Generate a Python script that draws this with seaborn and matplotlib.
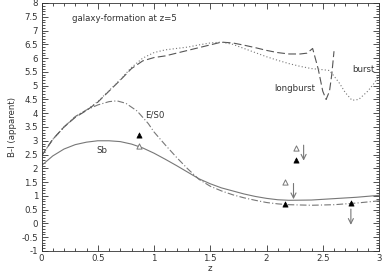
import numpy as np
import pandas as pd
import matplotlib
matplotlib.use("Agg")
import matplotlib.pyplot as plt
from matplotlib.ticker import MultipleLocator
import seaborn as sns

# ---- data ----
sb_z = [0, 0.1, 0.2, 0.3, 0.4, 0.5, 0.6, 0.7, 0.8, 0.9, 1.0, 1.1, 1.2, 1.3, 1.4, 1.5, 1.6, 1.7, 1.8, 1.9, 2.0, 2.1, 2.2, 2.4, 2.6, 2.8, 3.0]
sb_y = [2.1, 2.45, 2.7, 2.86, 2.95, 3.0, 3.0, 2.97, 2.88, 2.74, 2.55, 2.33, 2.1, 1.86, 1.62, 1.44, 1.29, 1.18, 1.07, 0.98, 0.91, 0.86, 0.84, 0.85, 0.9, 0.95, 1.02]

es0_z = [0, 0.1, 0.2, 0.3, 0.4, 0.5, 0.6, 0.67, 0.75, 0.85, 0.95, 1.0, 1.1, 1.2, 1.3, 1.4, 1.5, 1.6, 1.7, 1.8, 1.9, 2.0, 2.1, 2.2, 2.4, 2.6, 2.8, 3.0]
es0_y = [2.45, 3.05, 3.5, 3.88, 4.12, 4.3, 4.42, 4.45, 4.36, 4.08, 3.62, 3.32, 2.85, 2.4, 1.98, 1.6, 1.35, 1.18, 1.04, 0.93, 0.84, 0.76, 0.71, 0.68, 0.66, 0.68, 0.74, 0.82]

long_z = [0, 0.1, 0.2, 0.3, 0.4, 0.5, 0.6, 0.7, 0.8, 0.9, 1.0, 1.1, 1.2, 1.3, 1.4, 1.5, 1.6, 1.7, 1.8, 1.9, 2.0, 2.1, 2.2, 2.3, 2.36, 2.41, 2.46, 2.5, 2.53, 2.56, 2.58, 2.6]
long_y = [2.45, 3.05, 3.5, 3.85, 4.1, 4.4, 4.8, 5.2, 5.62, 5.9, 6.02, 6.08, 6.18, 6.28, 6.38, 6.48, 6.58, 6.55, 6.47, 6.38, 6.28, 6.2, 6.15, 6.15, 6.18, 6.35, 5.6, 4.8, 4.5, 4.8, 5.4, 6.25]

burst_z = [0, 0.1, 0.2, 0.3, 0.4, 0.5, 0.6, 0.7, 0.8, 0.9, 1.0, 1.1, 1.2, 1.3, 1.4, 1.5, 1.6, 1.7, 1.8, 1.9, 2.0, 2.1, 2.2, 2.3, 2.4, 2.5, 2.56, 2.6, 2.65, 2.7, 2.76, 2.82, 2.9, 2.95, 3.0]
burst_y = [2.45, 3.05, 3.5, 3.87, 4.12, 4.42, 4.82, 5.22, 5.66, 6.0, 6.2, 6.3, 6.35, 6.4, 6.48, 6.55, 6.58, 6.5, 6.35, 6.2, 6.05, 5.92, 5.8, 5.7, 5.62, 5.58, 5.55, 5.35, 5.08, 4.75, 4.47, 4.5, 4.8, 5.05, 5.35]

filled_z = [0.87, 2.26, 2.16, 2.75]
filled_y = [3.2, 2.3, 0.70, 0.73]
open_z = [0.87, 2.26, 2.16]
open_y = [2.82, 2.72, 1.51]

arrow_z = [2.33, 2.24, 2.75]
arrow_top = [2.84, 1.45, 0.52]
arrow_bot = [2.28, 0.88, -0.05]

# ---- figure ----
sns.set_style("ticks")
plt.rcParams['font.family'] = ['DejaVu Sans']
fig = plt.figure(figsize=(3.82, 2.73), dpi=100)
ax = fig.add_axes([41.5/382, 1 - 251/273, (379 - 41.5)/382, (251 - 3)/273])

gray = "#777777"
lw = 0.8
sns.lineplot(x=sb_z, y=sb_y, ax=ax, color=gray, lw=lw, sort=False, estimator=None)
sns.lineplot(x=es0_z, y=es0_y, ax=ax, color=gray, lw=lw, sort=False, estimator=None)
ax.lines[-1].set_dashes([6, 2, 1, 2])
sns.lineplot(x=long_z, y=long_y, ax=ax, color="#555555", lw=lw, sort=False, estimator=None)
ax.lines[-1].set_dashes([7, 3])
sns.lineplot(x=burst_z, y=burst_y, ax=ax, color=gray, lw=lw, sort=False, estimator=None)
ax.lines[-1].set_dashes([1, 2])

sns.scatterplot(x=filled_z, y=filled_y, ax=ax, marker="^", s=14, color="black", edgecolor="black", linewidth=0.5, zorder=5)
sns.scatterplot(x=open_z, y=open_y, ax=ax, marker="^", s=14, facecolor="white", edgecolor=gray, linewidth=0.7, zorder=5)

for z, t, b in zip(arrow_z, arrow_top, arrow_bot):
    ax.annotate("", xy=(z, b), xytext=(z, t),
                arrowprops=dict(arrowstyle="->", color=gray, lw=0.8, shrinkA=0, shrinkB=0, mutation_scale=9))

fs = 6.2
tc = "#333333"
ax.text(0.27, 7.45, "galaxy-formation at z=5", fontsize=fs, color=tc, va="center")
ax.text(0.92, 3.95, "E/S0", fontsize=fs, color=tc, va="center")
ax.text(0.49, 2.65, "Sb", fontsize=fs, color=tc, va="center")
ax.text(2.07, 4.9, "longburst", fontsize=fs, color=tc, va="center")
ax.text(2.76, 5.6, "burst", fontsize=fs, color=tc, va="center")

ax.set_xlim(0, 3)
ax.set_ylim(-1, 8)
ax.xaxis.set_major_locator(MultipleLocator(0.5))
ax.xaxis.set_minor_locator(MultipleLocator(0.1))
ax.yaxis.set_major_locator(MultipleLocator(0.5))
ax.yaxis.set_minor_locator(MultipleLocator(0.1))
ax.tick_params(which="both", direction="in", top=True, right=True, labelsize=fs, colors="#333333", width=0.6, pad=2.5)
ax.tick_params(which="major", length=4)
ax.tick_params(which="minor", length=2)
ax.xaxis.set_major_formatter(matplotlib.ticker.FuncFormatter(lambda v, p: f"{v:g}"))
ax.yaxis.set_major_formatter(matplotlib.ticker.FuncFormatter(lambda v, p: f"{v:g}"))
for s in ax.spines.values():
    s.set_linewidth(0.6)
    s.set_color("#333333")
    s.set_visible(True)
ax.set_xlabel("z", fontsize=fs, color=tc, labelpad=0.5)
ax.set_ylabel("B-I (apparent)", fontsize=fs, color=tc, labelpad=3)

fig.savefig("out.png", dpi=100)
